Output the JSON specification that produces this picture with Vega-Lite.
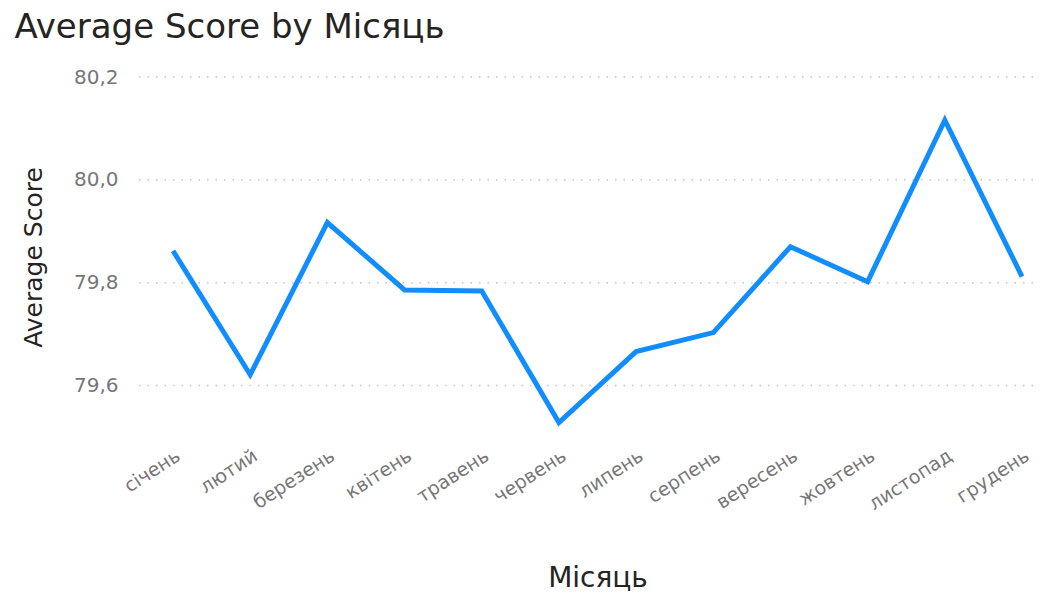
{
  "$schema": "https://vega.github.io/schema/vega-lite/v6.json",
  "width": 900,
  "height": 360,
  "autosize": "none",
  "padding": {"left": 133, "top": 77, "right": 7, "bottom": 162},
  "background": "#ffffff",
  "title": {
    "text": "Average Score by Місяць",
    "anchor": "start",
    "frame": "bounds",
    "font": "DejaVu Sans",
    "fontSize": 34,
    "fontWeight": "normal",
    "color": "#252423",
    "offset": 22,
    "dx": -7
  },
  "datasets": {
    "scores": [
      {"month": "січень", "score": 79.862},
      {"month": "лютий", "score": 79.621},
      {"month": "березень", "score": 79.917},
      {"month": "квітень", "score": 79.786},
      {"month": "травень", "score": 79.784},
      {"month": "червень", "score": 79.528},
      {"month": "липень", "score": 79.666},
      {"month": "серпень", "score": 79.703},
      {"month": "вересень", "score": 79.870},
      {"month": "жовтень", "score": 79.802},
      {"month": "листопад", "score": 80.116},
      {"month": "грудень", "score": 79.812}
    ],
    "gridvals": [
      {"score": 79.6}, {"score": 79.8}, {"score": 80.0}, {"score": 80.2}
    ]
  },
  "encoding": {
    "y": {
      "field": "score",
      "type": "quantitative",
      "scale": {"domain": [79.5, 80.2], "nice": false, "zero": false},
      "axis": {
        "title": "Average Score",
        "values": [79.6, 79.8, 80.0, 80.2],
        "format": ".1f",
        "labelFont": "DejaVu Sans",
        "labelFontSize": 20,
        "labelColor": "#777777",
        "labelPadding": 15,
        "ticks": false,
        "domain": false,
        "grid": false,
        "titleFont": "DejaVu Sans",
        "titleFontSize": 25,
        "titleFontWeight": "normal",
        "titleColor": "#252423",
        "titlePadding": 27
      }
    }
  },
  "layer": [
    {
      "data": {"name": "gridvals"},
      "mark": {"type": "rule", "color": "#c4c4c4", "strokeDash": [1.5, 7], "strokeWidth": 1.5},
      "encoding": {}
    },
    {
      "data": {"name": "scores"},
      "mark": {"type": "line", "color": "#118DFF", "strokeWidth": 5, "strokeJoin": "miter"},
      "encoding": {
        "x": {
          "field": "month",
          "type": "nominal",
          "sort": ["січень", "лютий", "березень", "квітень", "травень", "червень", "липень", "серпень", "вересень", "жовтень", "листопад", "грудень"],
          "scale": {"type": "point", "range": [40, 889], "padding": 0},
          "axis": {
            "title": "Місяць",
            "labelAngle": -33,
            "labelFont": "DejaVu Sans",
            "labelFontSize": 19,
            "labelColor": "#777777",
            "labelPadding": 9,
            "ticks": false,
            "domain": false,
            "grid": false,
            "titleFont": "DejaVu Sans",
            "titleFontSize": 28,
            "titleFontWeight": "normal",
            "titleColor": "#252423",
            "titlePadding": 51
          }
        }
      }
    }
  ],
  "config": {
    "view": {"stroke": null},
    "locale": {
      "number": {"decimal": ",", "thousands": " ", "grouping": [3], "currency": ["", " ₴"]}
    }
  }
}
